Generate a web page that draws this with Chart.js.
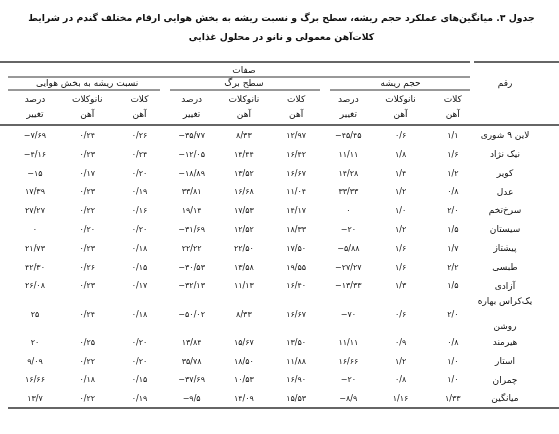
<!DOCTYPE html>
<html><head><meta charset="utf-8">
<script src="https://cdn.jsdelivr.net/npm/chart.js@4.4.0/dist/chart.umd.min.js"></script>
<style>html,body{margin:0;background:#fff}#w{width:559px;height:434px}</style>
</head><body><div id="w"><canvas id="c"></canvas></div>
<script>
const names=["لاین ۹ شوری","نیک نژاد","کویر","عدل","سرخ‌تخم","سیستان","پیشتاز","طبسی","آزادی","یک‌کراس بهاره|روشن","هیرمند","استار","چمران","میانگین"];
const rowPos=[0,1,2,3,4,5,6,7,8,9.5,11,12,13,14];
const rootKalat=["1/1","1/6","1/2","0/8","2/0","1/5","1/7","2/2","1/5","2/0","0/8","1/0","1/0","1/33"];
const rootNano=["0/6","1/8","1/4","1/2","1/0","1/2","1/6","1/6","1/3","0/6","0/9","1/2","0/8","1/16"];
const rootPct=["-45/45","11/11","14/28","33/33","0","-20","-5/88","-27/27","-13/33","-70","11/11","16/66","-20","-8/9"];
const leafKalat=["12/97","16/42","16/67","11/04","14/17","18/33","17/50","19/55","16/40","16/67","13/50","11/88","16/90","15/53"];
const leafNano=["8/33","14/44","13/52","16/68","17/53","12/52","22/50","13/58","11/13","8/33","15/67","18/50","10/53","14/09"];
const leafPct=["-35/77","-12/05","-18/89","33/81","19/14","-31/69","22/22","-30/53","-32/13","-50/02","13/84","35/78","-37/69","-9/5"];
const ratioKalat=["0/26","0/24","0/20","0/19","0/16","0/20","0/18","0/15","0/17","0/18","0/20","0/20","0/15","0/19"];
const ratioNano=["0/24","0/23","0/17","0/23","0/22","0/20","0/23","0/26","0/23","0/24","0/25","0/22","0/18","0/22"];
const ratioPct=["-7/69","-4/16","-15","17/39","27/27","0","21/73","42/30","26/08","25","20","9/09","16/66","13/7"];
const columns=[ratioPct,ratioNano,ratioKalat,leafPct,leafNano,leafKalat,rootPct,rootNano,rootKalat];
const title1="جدول ۳. میانگین‌های عملکرد حجم ریشه، سطح برگ و نسبت ریشه به بخش هوایی ارقام مختلف گندم در شرایط";
const title2="کلات‌آهن معمولی و نانو در محلول غذایی";
const groups=["نسبت ریشه به بخش هوایی","سطح برگ","حجم ریشه"];
const sub1=["درصد","نانوکلات","کلات"], sub2=["تغییر","آهن","آهن"];
const fa=s=>s.replace(/\d/g,d=>"۰۱۲۳۴۵۶۷۸۹"[d]).replace(/^-/,"−");
const F="DejaVu Sans";
const datasets=columns.map((col,ci)=>({data:col.map((v,ri)=>({x:ci,y:rowPos[ri],t:fa(v)})),pointRadius:0}));
datasets.push({data:names.map((n,ri)=>({x:9,y:rowPos[ri],t:n})),pointRadius:0});
const plug={id:'tbl',afterDatasetsDraw(ch){
 const c=ch.ctx,xs=ch.scales.x,ys=ch.scales.y,W=ch.width;
 c.save();c.fillStyle='#111';c.textBaseline='middle';c.textAlign='center';
 ch.data.datasets.forEach((ds,di)=>{const m=ch.getDatasetMeta(di);
  m.data.forEach((el,i)=>{const t=ds.data[i].t;
   if(di===9){c.direction='rtl';c.font='9px '+F;
     if(t.includes('|')){const p=t.split('|');c.fillText(p[0],el.x,ys.getPixelForValue(9)-3);c.fillText(p[1],el.x,ys.getPixelForValue(10)+3);}
     else c.fillText(t,el.x,el.y);}
   else{c.direction='ltr';c.font='8px '+F;c.fillText(t,el.x,el.y);}
  });});
 const px=v=>xs.getPixelForValue(v);
 c.direction='rtl';c.font='bold 9.3px '+F;
 c.fillText(title1,W/2+2,19,530);c.fillText(title2,W/2+2,38);
 c.font='9px '+F;
 c.fillText("صفات",(px(0)+px(8))/2,71);
 c.fillText("رقم",px(9),84);
 groups.forEach((g,gi)=>c.fillText(g,(px(gi*3)+px(gi*3+2))/2,84));
 for(let k=0;k<9;k++){c.fillText(sub1[k%3],px(k),100);c.fillText(sub2[k%3],px(k),115);}
 c.strokeStyle='#333';
 const ln=(x1,x2,y,w)=>{c.lineWidth=w;c.beginPath();c.moveTo(x1,y);c.lineTo(x2,y);c.stroke();};
 ln(0,470,62,1.6);ln(474,W,62,1.6);
 ln(8,470,77,1);
 [[8,160],[170,320],[330,470]].forEach(s=>ln(s[0],s[1],90,1));
 ln(0,W,125,1.6);
 ln(8,W,ys.getPixelForValue(14)+9,1.6);
 c.restore();}};
new Chart(document.getElementById('c'),{type:'scatter',data:{datasets},plugins:[plug],
 options:{responsive:true,maintainAspectRatio:false,animation:false,events:[],
  layout:{padding:{left:35,right:54,top:136,bottom:35}},
  plugins:{legend:{display:false},tooltip:{enabled:false}},
  scales:{x:{type:'linear',min:0,max:9,display:false},y:{type:'linear',min:0,max:14,reverse:true,display:false}}}});
</script></body></html>
